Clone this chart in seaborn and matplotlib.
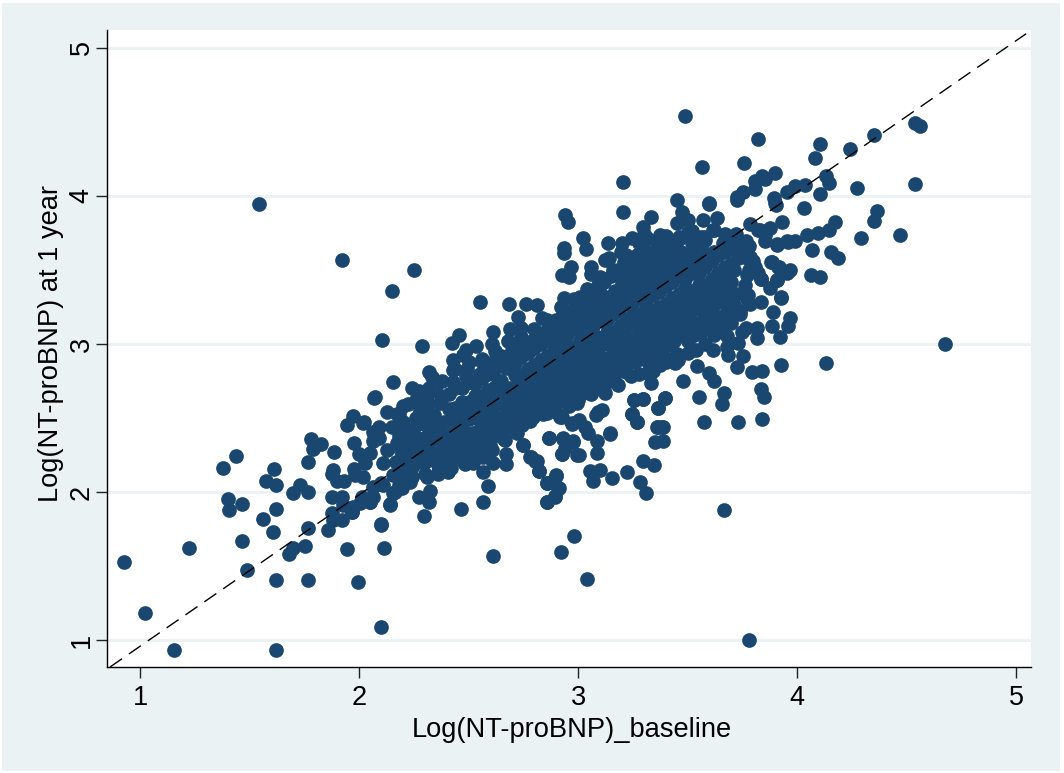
import pandas as pd
import seaborn as sns
import matplotlib.pyplot as plt
from matplotlib.patches import Rectangle

# lower left tail
low_x = [0.927, 1.024, 1.155, 1.62, 1.224, 1.378, 1.437, 1.402, 1.405, 1.464, 1.464, 1.487, 1.622, 1.767, 1.997, 2.10,
         1.613, 1.575, 1.622, 1.70, 1.732, 1.767, 1.767, 1.782, 1.791, 1.825, 1.886, 1.622, 1.562, 1.606, 1.767, 1.752,
         1.70, 1.68, 1.857, 1.945, 2.113, 2.099, 1.875, 1.875, 1.883, 1.875, 1.90, 1.933, 1.977, 1.974, 1.944, 2.02,
         2.065, 2.09, 2.062, 2.092, 2.15, 2.126, 2.172, 2.07, 1.977, 2.001, 2.05, 2.027, 1.982, 2.02, 2.126, 2.11,
         2.099, 2.065, 2.157, 2.172, 1.921, 1.927, 1.973, 2.012, 2.05, 2.064, 1.966, 1.921, 1.883, 2.142, 2.157]
low_y = [1.53, 1.18, 0.93, 0.93, 1.62, 2.164, 2.24, 1.953, 1.876, 1.921, 1.667, 1.47, 1.405, 1.405, 1.39, 1.09,
         2.155, 2.076, 2.045, 1.993, 2.05, 1.998, 2.2, 2.36, 2.29, 2.327, 2.27, 1.885, 1.818, 1.728, 1.76, 1.635,
         1.62, 1.583, 1.74, 1.613, 1.624, 1.777, 1.86, 1.966, 2.15, 2.12, 2.076, 2.076, 2.333, 2.515, 2.455, 2.468,
         2.405, 2.44, 2.347, 2.362, 2.44, 2.543, 2.527, 2.633, 2.155, 2.255, 2.262, 2.194, 2.115, 2.1, 2.284, 2.194,
         2.06, 2.036, 2.115, 2.33, 1.968, 1.912, 1.90, 1.968, 1.935, 1.968, 1.868, 1.811, 1.811, 1.919, 1.991]

# edges of the middle of the cloud
mid_x = [2.104, 2.286, 2.553, 2.686, 2.761, 2.811, 2.834, 2.727, 2.74, 2.689, 2.613, 2.605, 2.455, 2.425, 2.534, 2.487,
         2.475, 2.428, 2.562, 2.575, 2.492, 2.431, 2.321, 2.332, 2.157, 2.072, 2.243, 2.275, 2.225, 2.18, 2.023, 2.088,
         2.297, 2.466, 2.568, 2.587, 2.564, 2.484, 2.522, 2.408, 2.362, 2.309, 2.431, 2.324, 2.274, 2.32, 2.142, 2.164,
         2.195, 2.233, 2.111, 2.05, 2.005, 1.966, 2.67, 2.613, 2.568, 2.67, 2.605, 2.568, 2.667, 2.628, 2.75, 2.868,
         2.781, 2.811, 2.823, 2.898, 2.86, 2.913, 2.895, 2.857, 2.925, 2.933, 2.994, 2.979, 2.971, 2.925, 2.857, 2.788,
         2.72, 2.492, 2.522, 2.4, 2.099]
mid_y = [3.025, 2.989, 3.286, 3.27, 3.27, 3.264, 3.174, 3.185, 3.106, 3.099, 3.083, 2.998, 3.061, 3.009, 2.983, 2.959,
         2.926, 2.892, 2.881, 2.836, 2.829, 2.824, 2.813, 2.775, 2.741, 2.644, 2.70, 2.685, 2.595, 2.527, 2.471, 2.37,
         1.84, 1.885, 1.931, 2.043, 2.133, 2.187, 2.194, 2.133, 2.137, 2.104, 2.228, 2.009, 1.968, 1.931, 1.912, 2.002,
         2.025, 2.07, 2.047, 1.935, 1.924, 1.868, 2.187, 2.194, 2.239, 2.257, 2.284, 2.284, 2.351, 2.385, 2.318, 2.363,
         2.234, 2.209, 2.144, 2.115, 2.063, 2.03, 1.968, 1.931, 2.257, 2.363, 2.25, 2.34, 2.459, 2.509, 2.531, 2.509,
         2.52, 2.329, 2.318, 2.333, 1.784]

# edges of the upper half of the cloud
upper_x = [3.207, 2.941, 2.953, 3.45, 3.597, 3.726, 3.9, 3.332, 3.476, 3.504, 3.453, 3.572, 3.635, 3.295, 3.504, 3.615,
           3.575, 3.671, 3.785, 3.93, 3.877, 3.831, 3.854, 3.907, 3.953, 3.767, 3.74, 3.702, 3.74, 3.785, 3.808, 3.77,
           3.88, 3.915, 3.953, 3.836, 3.907, 3.877, 3.925, 3.836, 3.773, 3.785, 3.892, 3.74, 3.702, 3.709, 3.968, 3.96,
           3.886, 3.922, 3.815, 3.767, 3.747, 3.815, 3.678, 3.732, 3.678, 3.618, 3.686, 3.755, 3.727, 3.927, 3.838, 3.793,
           3.543, 3.6, 3.622, 3.481, 3.458, 3.412, 3.374, 3.443, 3.405, 3.333, 3.313, 3.218, 3.553, 3.665, 3.659, 3.836,
           3.851, 3.397, 3.367, 3.298, 3.256, 3.245, 3.268, 3.575, 3.732, 3.842, 3.359, 3.385, 3.146, 3.091, 3.1, 3.058,
           3.123, 3.135, 3.021, 3.037, 2.936, 2.936, 2.968, 2.96, 3.195, 3.245, 3.374, 3.316, 3.463, 2.925, 2.936, 3.009]
upper_y = [3.894, 3.872, 3.822, 3.973, 3.946, 3.973, 3.953, 3.856, 3.89, 3.838, 3.815, 3.838, 3.849, 3.787, 3.759, 3.766,
           3.721, 3.741, 3.811, 3.826, 3.782, 3.766, 3.692, 3.674, 3.692, 3.692, 3.692, 3.658, 3.59, 3.59, 3.522, 3.466,
           3.55, 3.522, 3.489, 3.439, 3.432, 3.376, 3.309, 3.286, 3.331, 3.27, 3.214, 3.22, 3.23, 3.32, 3.174, 3.122,
           3.122, 3.045, 3.106, 3.106, 3.083, 3.038, 3.056, 3.005, 2.982, 2.959, 2.926, 2.919, 2.847, 2.86, 2.818, 2.813,
           2.851, 2.801, 2.75, 2.75, 2.892, 2.897, 2.858, 2.87, 3.009, 2.734, 2.801, 2.813, 2.644, 2.667, 2.595, 2.696,
           2.644, 2.633, 2.566, 2.628, 2.622, 2.527, 2.475, 2.475, 2.475, 2.495, 2.441, 2.441, 2.4, 2.543, 3.342, 3.471,
           3.568, 3.684, 3.714, 3.642, 3.647, 3.617, 3.522, 3.451, 3.624, 3.714, 3.736, 3.714, 3.707, 3.466, 3.309, 3.32]

# upper right tail
top_x = [3.822, 4.105, 4.35, 4.539, 4.559, 4.242, 4.081, 3.757, 3.565, 3.901, 3.839, 3.854, 3.808, 4.132, 4.147, 4.037,
         3.991, 3.956, 4.272, 4.539, 4.105, 3.895, 3.904, 3.808, 3.755, 3.727, 3.597, 4.032, 4.364, 4.349, 4.175, 4.147,
         4.097, 4.044, 3.991, 3.96, 3.91, 3.823, 3.854, 4.291, 4.47, 4.068, 4.155, 4.187, 3.884, 3.919, 3.968, 3.953,
         4.062, 4.105, 3.837, 3.907, 3.927, 3.775, 3.702, 3.724, 3.778, 3.671, 3.62, 3.56, 3.56]
top_y = [4.387, 4.353, 4.412, 4.491, 4.473, 4.318, 4.253, 4.221, 4.198, 4.151, 4.131, 4.113, 4.103, 4.135, 4.086, 4.07,
         4.068, 4.023, 4.056, 4.081, 4.011, 3.985, 3.939, 4.045, 4.029, 3.989, 3.953, 3.917, 3.899, 3.833, 3.824, 3.77,
         3.748, 3.736, 3.698, 3.687, 3.671, 3.77, 3.736, 3.714, 3.735, 3.635, 3.622, 3.58, 3.551, 3.522, 3.5, 3.478,
         3.466, 3.451, 3.439, 3.432, 3.315, 3.331, 3.669, 3.624, 3.601, 3.736, 3.766, 3.72, 3.65]

# lower side of the cloud and isolated outliers
stray_x = [4.676, 4.132, 3.781, 3.667, 1.543, 1.922, 2.251, 2.151, 3.489, 3.205, 2.922, 2.982, 3.041, 2.612, 3.257, 3.298,
           3.397, 3.367, 3.247, 3.268, 3.367, 3.387, 3.387, 3.352, 3.295, 3.347, 3.225, 3.157, 3.1, 3.055, 3.07, 3.283,
           3.311, 2.898, 2.86, 2.91, 2.895, 2.857, 2.823, 2.803, 2.785, 2.75, 2.868, 2.933, 2.979, 3.005, 2.925, 2.941,
           3.085, 3.088, 3.144, 3.047, 3.032, 3.006, 2.971, 2.918, 2.793, 2.743, 3.082, 3.108, 3.123, 2.994, 2.933, 2.826,
           2.765, 2.886, 3.023]
stray_y = [3.0, 2.87, 1.0, 1.878, 3.946, 3.568, 3.5, 3.358, 4.54, 4.095, 1.595, 1.703, 1.412, 1.568, 2.622, 2.631,
           2.633, 2.566, 2.527, 2.471, 2.441, 2.441, 2.347, 2.336, 2.206, 2.185, 2.133, 2.095, 2.149, 2.144, 2.076, 2.066,
           1.991, 2.108, 2.059, 2.025, 1.973, 1.931, 2.144, 2.206, 2.233, 2.318, 2.363, 2.358, 2.347, 2.25, 2.255, 2.295,
           2.262, 2.347, 2.39, 2.396, 2.441, 2.486, 2.464, 2.509, 2.509, 2.453, 2.52, 2.554, 2.667, 2.6, 2.622, 2.622,
           2.577, 2.669, 2.669]

# dense core, one row per column of the band
core_x = [2.18, 2.17, 2.19, 2.18, 2.2,
          2.24, 2.25, 2.23, 2.24, 2.26,
          2.3, 2.29, 2.31, 2.3, 2.28, 2.31,
          2.36, 2.35, 2.37, 2.36, 2.34, 2.37, 2.35,
          2.42, 2.41, 2.43, 2.42, 2.44, 2.41, 2.43,
          2.48, 2.49, 2.47, 2.48, 2.5, 2.47, 2.49,
          2.54, 2.53, 2.55, 2.54, 2.56, 2.53, 2.55,
          2.6, 2.61, 2.59, 2.6, 2.62, 2.59, 2.61,
          2.66, 2.65, 2.67, 2.66, 2.64, 2.67, 2.65,
          2.72, 2.73, 2.71, 2.72, 2.74, 2.71, 2.73, 2.72,
          2.78, 2.77, 2.79, 2.78, 2.8, 2.77, 2.79,
          2.84, 2.85, 2.83, 2.84, 2.86, 2.83, 2.85,
          2.9, 2.89, 2.91, 2.9, 2.92, 2.89, 2.91, 2.9,
          2.96, 2.97, 2.95, 2.96, 2.98, 2.95, 2.97, 2.96,
          3.02, 3.01, 3.03, 3.02, 3.04, 3.01, 3.03, 3.02,
          3.08, 3.09, 3.07, 3.08, 3.1, 3.07, 3.09, 3.08, 3.06,
          3.14, 3.13, 3.15, 3.14, 3.16, 3.13, 3.15, 3.14, 3.12,
          3.2, 3.21, 3.19, 3.2, 3.22, 3.19, 3.21, 3.2, 3.18,
          3.26, 3.25, 3.27, 3.26, 3.28, 3.25, 3.27, 3.26, 3.24, 3.27,
          3.32, 3.33, 3.31, 3.32, 3.34, 3.31, 3.33, 3.32, 3.3, 3.33,
          3.38, 3.37, 3.39, 3.38, 3.4, 3.37, 3.39, 3.38, 3.36,
          3.44, 3.45, 3.43, 3.44, 3.46, 3.43, 3.45, 3.44, 3.42,
          3.5, 3.49, 3.51, 3.5, 3.52, 3.49, 3.51, 3.5,
          3.56, 3.57, 3.55, 3.56, 3.58, 3.55, 3.57, 3.56,
          3.62, 3.61, 3.63, 3.62, 3.64, 3.61,
          3.68, 3.69, 3.67, 3.68, 3.7, 3.67]
core_y = [2.12, 2.2, 2.28, 2.38, 2.47,
          2.17, 2.25, 2.33, 2.42, 2.5,
          2.2, 2.3, 2.38, 2.46, 2.55, 2.62,
          2.18, 2.26, 2.35, 2.43, 2.52, 2.6, 2.68,
          2.22, 2.31, 2.4, 2.49, 2.57, 2.66, 2.74,
          2.26, 2.36, 2.44, 2.53, 2.61, 2.7, 2.78,
          2.3, 2.4, 2.48, 2.57, 2.65, 2.73, 2.8,
          2.38, 2.46, 2.55, 2.63, 2.71, 2.8, 2.88,
          2.42, 2.5, 2.58, 2.66, 2.75, 2.84, 2.92,
          2.46, 2.55, 2.63, 2.71, 2.79, 2.87, 2.95, 3.0,
          2.55, 2.62, 2.7, 2.78, 2.86, 2.94, 3.02,
          2.6, 2.68, 2.76, 2.84, 2.92, 3.0, 3.08,
          2.6, 2.68, 2.76, 2.85, 2.93, 3.01, 3.09, 3.16,
          2.65, 2.73, 2.82, 2.9, 2.98, 3.06, 3.14, 3.22,
          2.7, 2.78, 2.87, 2.95, 3.03, 3.11, 3.2, 3.28,
          2.72, 2.8, 2.88, 2.96, 3.04, 3.12, 3.2, 3.28, 3.36,
          2.75, 2.84, 2.92, 3.0, 3.08, 3.16, 3.24, 3.32, 3.42,
          2.85, 2.93, 3.01, 3.09, 3.17, 3.25, 3.33, 3.41, 3.5,
          2.88, 2.96, 3.04, 3.12, 3.2, 3.28, 3.36, 3.44, 3.52, 3.6,
          2.88, 2.97, 3.05, 3.13, 3.21, 3.29, 3.37, 3.45, 3.53, 3.61,
          2.95, 3.03, 3.11, 3.19, 3.27, 3.35, 3.43, 3.51, 3.59,
          3.02, 3.1, 3.18, 3.26, 3.34, 3.42, 3.5, 3.58, 3.66,
          3.02, 3.1, 3.2, 3.28, 3.36, 3.44, 3.52, 3.6,
          3.08, 3.16, 3.24, 3.32, 3.4, 3.48, 3.56, 3.64,
          3.14, 3.24, 3.32, 3.4, 3.48, 3.56,
          3.22, 3.3, 3.38, 3.46, 3.54, 3.62]

# points between the columns above
fill_x = [2.21, 2.22, 2.2, 2.21,
          2.27, 2.28, 2.26, 2.27, 2.29,
          2.33, 2.32, 2.34, 2.33, 2.31,
          2.39, 2.4, 2.38, 2.39, 2.41, 2.38,
          2.45, 2.44, 2.46, 2.45, 2.47, 2.44,
          2.51, 2.52, 2.5, 2.51, 2.53, 2.5,
          2.57, 2.56, 2.58, 2.57, 2.59, 2.56,
          2.63, 2.64, 2.62, 2.63, 2.65, 2.62,
          2.69, 2.68, 2.7, 2.69, 2.71, 2.68, 2.7,
          2.75, 2.76, 2.74, 2.75, 2.77, 2.74, 2.76,
          2.81, 2.8, 2.82, 2.81, 2.83, 2.8, 2.82,
          2.87, 2.88, 2.86, 2.87, 2.89, 2.86, 2.88,
          2.93, 2.92, 2.94, 2.93, 2.95, 2.92, 2.94, 2.93,
          2.99, 3.0, 2.98, 2.99, 3.01, 2.98, 3.0, 2.99,
          3.05, 3.04, 3.06, 3.05, 3.07, 3.04, 3.06, 3.05,
          3.11, 3.12, 3.1, 3.11, 3.13, 3.1, 3.12, 3.11, 3.09,
          3.17, 3.16, 3.18, 3.17, 3.19, 3.16, 3.18, 3.17, 3.15,
          3.23, 3.24, 3.22, 3.23, 3.25, 3.22, 3.24, 3.23, 3.21,
          3.29, 3.28, 3.3, 3.29, 3.31, 3.28, 3.3, 3.29, 3.27, 3.3,
          3.35, 3.36, 3.34, 3.35, 3.37, 3.34, 3.36, 3.35, 3.33, 3.36,
          3.41, 3.4, 3.42, 3.41, 3.43, 3.4, 3.42, 3.41, 3.39,
          3.47, 3.48, 3.46, 3.47, 3.49, 3.46, 3.48, 3.47,
          3.53, 3.52, 3.54, 3.53, 3.55, 3.52, 3.54, 3.53,
          3.59, 3.6, 3.58, 3.59, 3.61, 3.58, 3.6,
          3.65, 3.64, 3.66, 3.65, 3.67, 3.64,
          3.71, 3.72, 3.7, 3.71, 3.73,
          3.77, 3.76, 3.78, 3.77]
fill_y = [2.16, 2.24, 2.32, 2.42,
          2.2, 2.29, 2.37, 2.46, 2.54,
          2.22, 2.34, 2.42, 2.5, 2.58,
          2.22, 2.3, 2.39, 2.47, 2.56, 2.64,
          2.27, 2.35, 2.44, 2.52, 2.61, 2.7,
          2.3, 2.4, 2.49, 2.57, 2.65, 2.74,
          2.35, 2.44, 2.52, 2.61, 2.69, 2.77,
          2.42, 2.5, 2.59, 2.67, 2.75, 2.84,
          2.46, 2.54, 2.62, 2.7, 2.79, 2.88, 2.96,
          2.5, 2.58, 2.67, 2.75, 2.83, 2.91, 2.99,
          2.58, 2.65, 2.73, 2.81, 2.89, 2.97, 3.05,
          2.64, 2.72, 2.8, 2.88, 2.96, 3.04, 3.12,
          2.64, 2.72, 2.8, 2.89, 2.97, 3.05, 3.13, 3.2,
          2.69, 2.77, 2.86, 2.94, 3.02, 3.1, 3.18, 3.26,
          2.74, 2.82, 2.91, 2.99, 3.07, 3.15, 3.24, 3.32,
          2.76, 2.84, 2.92, 3.0, 3.08, 3.16, 3.24, 3.32, 3.4,
          2.8, 2.88, 2.96, 3.04, 3.12, 3.2, 3.28, 3.36, 3.46,
          2.9, 2.98, 3.05, 3.13, 3.21, 3.29, 3.37, 3.45, 3.55,
          2.92, 3.0, 3.08, 3.16, 3.24, 3.32, 3.4, 3.48, 3.56, 3.64,
          2.92, 3.01, 3.09, 3.17, 3.25, 3.33, 3.41, 3.49, 3.57, 3.64,
          2.99, 3.07, 3.15, 3.23, 3.31, 3.39, 3.47, 3.55, 3.63,
          3.06, 3.14, 3.22, 3.3, 3.38, 3.46, 3.54, 3.62,
          3.06, 3.14, 3.24, 3.32, 3.4, 3.48, 3.56, 3.64,
          3.12, 3.2, 3.28, 3.36, 3.44, 3.52, 3.6,
          3.18, 3.28, 3.36, 3.44, 3.52, 3.6,
          3.26, 3.34, 3.42, 3.5, 3.58,
          3.3, 3.4, 3.5, 3.58]

# rim of the band, upper side then lower side
rim_x = [2.2, 2.26, 2.32, 2.38, 2.44, 2.5, 2.56, 2.62, 2.68, 2.74, 2.8, 2.86, 2.92, 2.98, 3.04, 3.1, 3.06,
         3.16, 3.14, 3.22, 3.2, 3.28, 3.3, 3.36, 3.4, 3.46, 3.52, 3.52, 3.58, 3.62, 3.66, 3.7, 3.74, 3.78, 3.8, 3.72, 3.82,
         3.74, 3.7, 3.66, 3.62, 3.58, 3.54, 3.5, 3.45, 3.4, 3.34, 3.28, 3.24, 3.18, 3.12, 3.06, 3.0, 2.96, 2.9, 2.84,
         2.78, 2.72, 2.66, 2.6, 2.54, 2.48, 2.42, 2.36, 2.3, 2.24, 2.18]
rim_y = [2.58, 2.62, 2.7, 2.75, 2.83, 2.88, 2.9, 2.95, 3.02, 3.05, 3.1, 3.16, 3.25, 3.3, 3.37, 3.45, 3.52,
         3.5, 3.58, 3.6, 3.68, 3.68, 3.74, 3.68, 3.73, 3.72, 3.68, 3.76, 3.7, 3.62, 3.68, 3.66, 3.62, 3.66, 3.56, 3.74, 3.48,
         3.2, 3.14, 3.1, 3.06, 3.0, 2.96, 2.94, 2.93, 2.88, 2.82, 2.8, 2.78, 2.72, 2.68, 2.66, 2.62, 2.58, 2.54, 2.53,
         2.48, 2.4, 2.36, 2.32, 2.26, 2.2, 2.16, 2.12, 2.12, 2.1, 2.05]

line_x = [0.863, 5.046]
line_y = [0.818, 5.095]
ticks = [1, 2, 3, 4, 5]

df = pd.DataFrame({
    'baseline': low_x + mid_x + upper_x + top_x + stray_x + core_x + fill_x + rim_x,
    'year1': low_y + mid_y + upper_y + top_y + stray_y + core_y + fill_y + rim_y,
})

sns.set_theme(style='white')
plt.rcParams['font.family'] = ['Liberation Sans', 'DejaVu Sans']

W, H = 1064, 773
fig = plt.figure(figsize=(W / 100, H / 100), dpi=100, facecolor='white')
fig.patches.append(Rectangle((2 / W, 2 / H), 1058 / W, 768 / H, transform=fig.transFigure,
                             facecolor='#eaf2f3', edgecolor='none', zorder=-5))
ax = fig.add_axes([107 / W, (H - 667) / H, 924 / W, 637 / H])
ax.set_facecolor('white')

ax.hlines(ticks, 0.849, 5.068, color='#eaf2f3', linewidth=2, zorder=1)
sns.scatterplot(data=df, x='baseline', y='year1', s=112, color='#1a476f', linewidth=0, ax=ax, zorder=2)
sns.lineplot(x=line_x, y=line_y, color='black', linewidth=1, linestyle=(0, (10.5, 6)), ax=ax, zorder=3)

ax.set_xlim(0.849, 5.068)
ax.set_ylim(0.818, 5.12)
ax.set_xticks(ticks)
ax.set_yticks(ticks)
ax.tick_params(axis='both', length=8, width=1, color='#222222', labelsize=19.5, labelcolor='black', bottom=True, left=True)
ax.tick_params(axis='x', pad=5)
ax.tick_params(axis='y', pad=1)
plt.setp(ax.get_yticklabels(), rotation=90, va='center')

sns.despine(ax=ax)
for side in ['left', 'bottom']:
    ax.spines[side].set_color('black')
    ax.spines[side].set_linewidth(1)

ax.set_xlabel('Log(NT-proBNP)_baseline', fontsize=19.6, color='black')
ax.set_ylabel('Log(NT-proBNP) at 1 year', fontsize=19.6, color='black')
ax.xaxis.set_label_coords(0.5035, -0.079)
ax.yaxis.set_label_coords(-0.047, 0.508)

fig.savefig('out.png', dpi=100, facecolor=fig.get_facecolor())
